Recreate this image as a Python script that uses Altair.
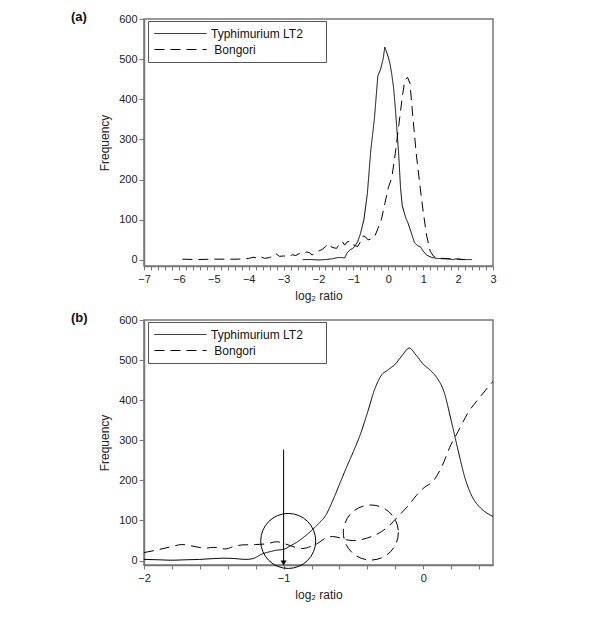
import altair as alt
import pandas as pd

FONT = "Liberation Sans"
series_names = ["Typhimurium LT2", "Bongori"]

# ---------- panel (a) data ----------
a_typh_x = [-2.45, -2.2, -2.0, -1.8, -1.6, -1.45, -1.35, -1.25, -1.18, -1.1, -1.0, -0.95, -0.88, -0.8,
            -0.7, -0.6, -0.5, -0.4, -0.3, -0.22, -0.15, -0.1, -0.05, 0.0, 0.05, 0.1, 0.15, 0.2, 0.25,
            0.3, 0.35, 0.4, 0.5, 0.56, 0.65, 0.75, 0.85, 0.92, 1.0, 1.1, 1.25, 1.4, 1.55, 1.7, 1.85,
            1.95, 2.1, 2.25, 2.4]
a_typh_y = [1, 1, 0, 1, 3, 6, 6, 5, 18, 25, 30, 35, 45, 65,
            100, 165, 275, 350, 458, 475, 500, 530, 518, 505, 488, 462, 430, 380, 320,
            260, 180, 135, 105, 93, 70, 43, 35, 33, 22, 12, 6, 4, 3, 3, 1,
            3, 1, 1, 1]

a_bong_x = [-5.9, -5.5, -5.0, -4.6, -4.3, -4.0, -3.85, -3.75, -3.65, -3.55, -3.4, -3.3, -3.22, -3.12,
            -3.0, -2.85, -2.75, -2.65, -2.55, -2.45, -2.35, -2.25, -2.18, -2.1, -2.0, -1.9, -1.8,
            -1.72, -1.64, -1.55, -1.48, -1.4, -1.32, -1.25, -1.18, -1.1, -1.02, -0.95, -0.88, -0.8,
            -0.72, -0.65, -0.58, -0.5, -0.45, -0.38, -0.3, -0.2, -0.1, 0.0, 0.1, 0.2, 0.3, 0.4,
            0.47, 0.55, 0.62, 0.7, 0.8, 0.9, 1.0, 1.1, 1.2, 1.3, 1.4, 1.55, 1.7, 1.85, 2.0, 2.2]
a_bong_y = [2, 1, 2, 2, 2, 4, 7, 4, 8, 4, 6, 10, 16, 9,
            10, 9, 13, 11, 16, 14, 20, 18, 12, 20, 22, 26, 33,
            41, 33, 30, 29, 40, 46, 37, 45, 47, 38, 36, 33, 45,
            60, 57, 50, 52, 55, 60, 78, 100, 140, 180, 205, 265, 335, 405,
            446, 455, 440, 360, 265, 190, 120, 60, 22, 9, 5, 4, 3, 2, 2, 1]

# ---------- panel (b) data ----------
b_typh_x = [-2.0, -1.9, -1.8, -1.7, -1.6, -1.5, -1.42, -1.35, -1.27, -1.22, -1.15, -1.1, -1.05, -1.0,
            -0.95, -0.9, -0.85, -0.8, -0.75, -0.7, -0.65, -0.6, -0.55, -0.5, -0.45, -0.4, -0.35,
            -0.3, -0.25, -0.2, -0.15, -0.1, -0.05, 0.0, 0.05, 0.1, 0.15, 0.2, 0.25, 0.3, 0.35, 0.4,
            0.45, 0.5]
b_typh_y = [3, 2, 1, 2, 3, 5, 6, 5, 3, 5, 17, 22, 26, 28,
            37, 47, 60, 75, 92, 112, 148, 190, 232, 272, 315, 368, 425,
            462, 476, 490, 512, 530, 512, 490, 475, 455, 420, 350, 275, 205, 160, 135,
            120, 110]

b_bong_x = [-2.0, -1.9, -1.8, -1.73, -1.65, -1.56, -1.5, -1.42, -1.35, -1.3, -1.2, -1.12, -1.05, -1.0,
            -0.95, -0.87, -0.8, -0.76, -0.7, -0.65, -0.6, -0.55, -0.5, -0.45, -0.37, -0.3, -0.25,
            -0.18, -0.1, -0.05, 0.0, 0.08, 0.13, 0.2, 0.25, 0.32, 0.4, 0.5]
b_bong_y = [20, 27, 35, 40, 36, 31, 33, 29, 36, 39, 40, 42, 47, 43,
            37, 30, 36, 42, 56, 60, 57, 52, 50, 52, 60, 72, 85,
            110, 140, 162, 180, 202, 232, 290, 322, 368, 405, 447]

# ---------- panel (b) annotations ----------
arrow_x = [-1.0]
arrow_top = [277]
arrow_tip = [-6]
circle_x = [-0.967, -0.375]
circle_y = [49, 70]

y_ticks = [0, 100, 200, 300, 400, 500, 600]
a_x_ticks = [round(-7 + 0.2 * i, 1) for i in range(51)]
b_x_ticks = [round(-2 + 0.2 * i, 1) for i in range(13)]

# legend labels: non-breaking spaces kept inside with zero-width spaces so they are not trimmed
PAD = "\u00a0" * 5 + "\u200b"
legend_names = [series_names[0] + PAD, "\u200b\u00a0" + series_names[1] + PAD]


def frame(xs, ys, name):
    return pd.DataFrame({"x": xs, "y": ys, "series": name})


df_a = pd.concat([frame(a_typh_x, a_typh_y, legend_names[0]), frame(a_bong_x, a_bong_y, legend_names[1])])
df_b = pd.concat([frame(b_typh_x, b_typh_y, legend_names[0]), frame(b_bong_x, b_bong_y, legend_names[1])])

label_expr = "abs(datum.value - round(datum.value)) < 0.001 ? format(round(datum.value), 'd') : ''"


def x_enc(dom, ticks, field="x"):
    return alt.X(f"{field}:Q", scale=alt.Scale(domain=dom, nice=False, zero=False),
                 axis=alt.Axis(values=ticks, labelExpr=label_expr, title="log₂ ratio", grid=False,
                               tickSize=4, labelPadding=3, titlePadding=6, labelFlush=False,
                               labelOverlap=False))


def y_enc(dom, field="y"):
    return alt.Y(f"{field}:Q", scale=alt.Scale(domain=dom, nice=False, zero=False),
                 axis=alt.Axis(values=y_ticks, title="Frequency", grid=False, tickSize=5,
                               labelPadding=2, titlePadding=7, labelFlush=False,
                               labelOverlap=False))


def dash_enc():
    return alt.StrokeDash(
        "series:N",
        scale=alt.Scale(domain=legend_names, range=[[1, 0], [10, 6]]),
        legend=alt.Legend(title=None, orient="none", legendX=4, legendY=2,
                          symbolType="stroke", symbolSize=2704, symbolStrokeWidth=1,
                          symbolStrokeColor="black", clipHeight=13, rowPadding=3, padding=6,
                          labelFont=FONT, labelFontSize=12, labelColor="#111", labelOffset=4,
                          labelLimit=300, strokeColor="#555", fillColor="white"),
    )


def title(txt):
    return alt.TitleParams(txt, anchor="start", frame="group", dx=-73, dy=15, fontSize=13,
                           fontWeight="bold", font=FONT, color="#111")


A_XDOM, A_YDOM = [-7, 3], [-15, 600]
B_XDOM, B_YDOM = [-2, 0.5], [-11, 600]

panel_a = alt.Chart(df_a).mark_line(color="black", strokeWidth=1, clip=True).encode(
    x=x_enc(A_XDOM, a_x_ticks),
    y=y_enc(A_YDOM),
    strokeDash=dash_enc(),
).properties(width=349, height=247, title=title("(a)"))

lines_b = alt.Chart(df_b).mark_line(color="black", strokeWidth=1, clip=True, interpolate="monotone").encode(
    x=x_enc(B_XDOM, b_x_ticks),
    y=y_enc(B_YDOM),
    strokeDash=dash_enc(),
)

arrow_df = pd.DataFrame({"x": arrow_x, "y": arrow_top, "y2": arrow_tip})
head_df = pd.DataFrame({"x": arrow_x, "y": arrow_tip})
arrow_rule = alt.Chart(arrow_df).mark_rule(color="black", strokeWidth=1).encode(
    x=x_enc(B_XDOM, b_x_ticks), y=y_enc(B_YDOM), y2="y2:Q")
arrow_head = alt.Chart(head_df).mark_point(shape="triangle-down", filled=True, color="black",
                                           size=36, opacity=1).encode(
    x=x_enc(B_XDOM, b_x_ticks), y=y_enc(B_YDOM))

circ_df = pd.DataFrame({"x": circle_x, "y": circle_y})
circle_solid = alt.Chart(circ_df.iloc[[0]]).mark_point(shape="circle", filled=False, color="black",
                                                       size=3025, strokeWidth=1, opacity=1).encode(
    x=x_enc(B_XDOM, b_x_ticks), y=y_enc(B_YDOM))
circle_dashed = alt.Chart(circ_df.iloc[[1]]).mark_point(shape="circle", filled=False, color="black",
                                                        size=3025, strokeWidth=1, opacity=1,
                                                        strokeDash=[10, 6]).encode(
    x=x_enc(B_XDOM, b_x_ticks), y=y_enc(B_YDOM))

panel_b = alt.layer(lines_b, arrow_rule, arrow_head, circle_solid, circle_dashed).properties(
    width=349, height=245, title=title("(b)"))

chart = alt.vconcat(panel_a, panel_b, spacing=9).resolve_scale(
    x="independent", y="independent", strokeDash="independent"
).resolve_legend(strokeDash="independent").properties(
    padding={"left": 62, "top": 2, "right": 5, "bottom": 5}
).configure_view(
    stroke="#777", strokeWidth=1.5
).configure_axis(
    domainColor="#777", domainWidth=1.5, tickColor="#777", tickWidth=1,
    labelFont=FONT, labelFontSize=11, labelColor="#222", labelOverlap=False,
    titleFont=FONT, titleFontSize=12, titleColor="#222", titleFontWeight="normal"
).configure_title(font=FONT)

chart.save("out.html", embed_options={"renderer": "svg", "actions": False})
